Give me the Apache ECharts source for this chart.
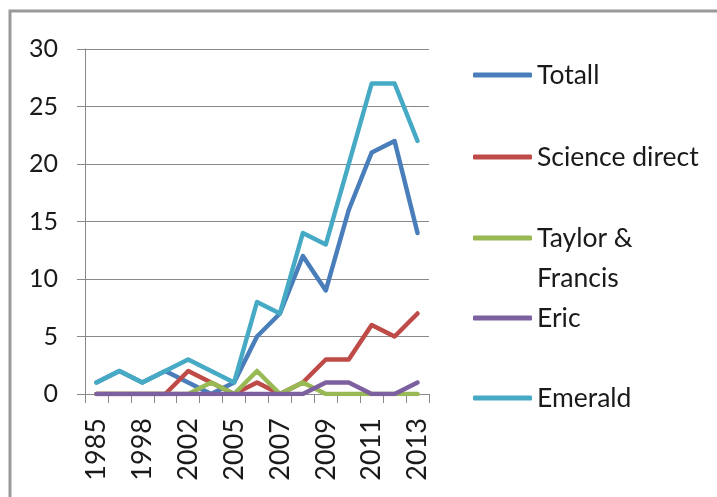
<!DOCTYPE html>
<html>
<head>
<meta charset="utf-8">
<script src="https://cdn.jsdelivr.net/npm/echarts@6/dist/echarts.min.js"></script>
<style>
html,body{margin:0;padding:0;background:#fff;}
#c{width:717px;height:497px;}
</style>
</head>
<body>
<div id="c"></div>
<script>
const categories = ['1985','1997','1998','2001','2002','2004','2005','2006','2007','2008','2009','2010','2011','2012','2013'];
const totall       = [1,2,1,2,1,0,1,5,7,12,9,16,21,22,14];
const scienceDirect= [0,0,0,0,2,1,0,1,0,1,3,3,6,5,7];
const taylorFrancis= [0,0,0,0,0,1,0,2,0,1,0,0,0,0,0];
const eric         = [0,0,0,0,0,0,0,0,0,0,1,1,0,0,1];
const emerald      = [1,2,1,2,3,2,1,8,7,14,13,20,27,27,22];
const yTicks = [0,5,10,15,20,25,30];

const seriesDefs = [
  {name:'Totall', data: totall, color:'#4A7EBB'},
  {name:'Science direct', data: scienceDirect, color:'#BE4B48'},
  {name:'Taylor & Francis', data: taylorFrancis, color:'#98B954'},
  {name:'Eric', data: eric, color:'#7D60A0'},
  {name:'Emerald', data: emerald, color:'#46AAC5'}
];

const font = 'Lato, Carlito, "Open Sans", sans-serif';
const legendTops = [60, 142, 178, 303, 383];

const legends = seriesDefs.map((s, i) => {
  const isTF = s.name === 'Taylor & Francis';
  return {
    data: [s.name],
    left: 473,
    top: legendTops[i],
    padding: 0,
    orient: 'vertical',
    icon: 'roundRect',
    itemWidth: 59,
    itemHeight: 5,
    itemGap: 0,
    selectedMode: false,
    formatter: isTF ? '{s| }\n{t|Taylor &}\n{t|Francis}' : '{name}',
    textStyle: {
      fontFamily: font,
      fontSize: 26.5,
      color: '#1a1a1a',
      lineHeight: isTF ? 40 : 30,
      rich: {
        s: {height: 40, lineHeight: 40, fontSize: 10},
        t: {fontFamily: font, fontSize: 26.5, color: '#1a1a1a', lineHeight: 40}
      }
    }
  };
});

const chart = echarts.init(document.getElementById('c'), null, {renderer:'canvas'});
chart.setOption({
  animation: false,
  backgroundColor: '#fff',
  graphic: [{
    type: 'rect',
    shape: {x: 10, y: 11, width: 760, height: 560},
    style: {fill: 'none', stroke: '#9a9a9a', lineWidth: 3},
    silent: true
  }],
  grid: {left: 85, right: 288, top: 49, bottom: 103, containLabel: false},
  legend: legends,
  xAxis: {
    type: 'category',
    data: categories,
    boundaryGap: true,
    axisLine: {show: true, lineStyle: {color: '#888', width: 1}},
    axisTick: {show: true, length: 9, interval: 0, lineStyle: {color: '#888'}},
    axisLabel: {
      interval: 1, rotate: 90, margin: 24,
      fontFamily: font, fontSize: 27, color: '#1a1a1a'
    },
    splitLine: {show: false}
  },
  yAxis: {
    type: 'value',
    min: yTicks[0], max: yTicks[yTicks.length-1], interval: 5,
    axisLine: {show: true, lineStyle: {color: '#888', width: 1}},
    axisTick: {show: true, length: 8, lineStyle: {color: '#888'}},
    axisLabel: {margin: 27, fontFamily: font, fontSize: 25, color: '#1a1a1a'},
    splitLine: {show: true, lineStyle: {color: '#888', width: 1}}
  },
  series: seriesDefs.map(s => ({
    name: s.name,
    type: 'line',
    data: s.data,
    color: s.color,
    showSymbol: false,
    symbol: 'none',
    lineStyle: {width: 4.5, color: s.color, cap: 'round', join: 'round'},
    itemStyle: {color: s.color}
  }))
});
</script>
</body>
</html>
